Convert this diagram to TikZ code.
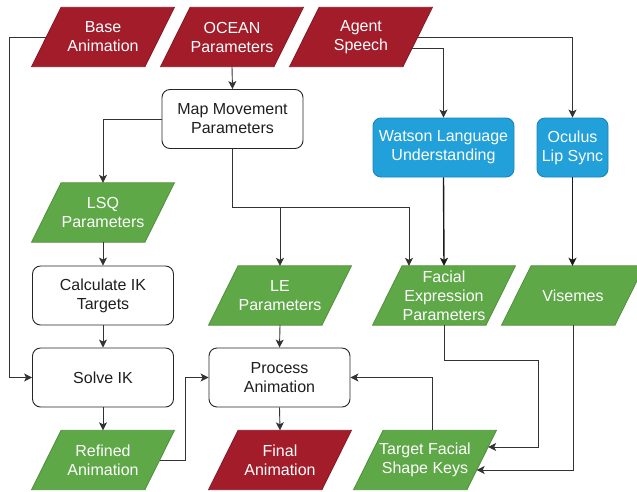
\documentclass[tikz,border=0pt]{standalone}
\usepackage{fontspec}
\setmainfont{Liberation Sans}
\usetikzlibrary{arrows.meta,calc,backgrounds}
\definecolor{cred}{HTML}{A21C2A}
\definecolor{credD}{HTML}{8A1822}
\definecolor{cgreen}{HTML}{5EA847}
\definecolor{cgreenD}{HTML}{4A8B37}
\definecolor{cblue}{HTML}{21A0DA}
\definecolor{cblueD}{HTML}{1A86BA}
\newcommand{\dfont}{\fontsize{16}{19}\selectfont}
\begin{document}
\begin{tikzpicture}[x=1pt,y=-1pt,
  procbox/.style={draw=black!85, rounded corners=8pt, line width=0.9pt, fill=white,
    minimum width=141pt, minimum height=59pt, align=center, text=black!88,
    font=\dfont, inner sep=0pt},
  apibox/.style={procbox, fill=cblue, draw=cblueD, text=white},
  databox/.style={rectangle, minimum width=113pt, minimum height=59pt,
    inner sep=0pt, align=center, text=white, font=\dfont},
  paraline/.style={line width=0.8pt, line join=miter},
  link/.style={draw=black!80, line width=0.9pt, -{Stealth[length=8pt,width=8pt,inset=2pt]}},
  thicklink/.style={link, draw=black!90, line width=1.4pt}]
\useasboundingbox (0,0) rectangle (637,491);

% inputs / data
\node[databox] (ba) at (103,37) {Base\\Animation};
\node[databox] (ocean) at (232,37) {OCEAN\\Parameters};
\node[databox] (agent) at (361,37) {Agent\\Speech};
\node[databox] (lsq) at (103,212.5) {LSQ\\Parameters};
\node[databox] (le) at (280,295.5) {LE\\Parameters};
\node[databox] (fep) at (444,295.5) {Facial\\Expression\\Parameters};
\node[databox] (vis) at (573,295.5) {Visemes};
\node[databox] (ref) at (103,460) {Refined\\Animation};
\node[databox] (final) at (280,460) {Final\\Animation};
\node[databox] (tfs) at (425,460) {Target Facial\\Shape Keys};

% processes
\node[procbox] (map) at (232.5,119) {Map Movement\\Parameters};
\node[apibox] (watson) at (443.5,147.5) {Watson Language\\Understanding};
\node[apibox, minimum width=71pt] (oculus) at (572.5,147.5) {Oculus\\Lip Sync};
\node[procbox] (calc) at (103,295.5) {Calculate IK\\Targets};
\node[procbox] (solve) at (103,377.5) {Solve IK};
\node[procbox] (proc) at (279.5,377.5) {Process\\Animation};

% parallelogram bodies
\begin{scope}[on background layer]
\foreach \n/\c in {ba/cred, ocean/cred, agent/cred, final/cred,
                   lsq/cgreen, le/cgreen, fep/cgreen, vis/cgreen, ref/cgreen, tfs/cgreen}{
  \filldraw[paraline, fill=\c, draw=\c!85!black]
    ($(\n.north west)+(14.75,0)$) -- ($(\n.north east)+(14.75,0)$) --
    ($(\n.south east)+(-14.75,0)$) -- ($(\n.south west)+(-14.75,0)$) -- cycle;
}
\end{scope}

% helper coordinates
\coordinate (split) at (232.5,207);
\coordinate (bleft) at (9,37);
\coordinate (rbend) at (185,460);
\coordinate (fbend) at (538,360);

% connectors
\draw[link] (ocean.south) -- (map.north);
\draw[link] (map.west) -| (lsq.north);
\draw[link] (map.south) -- (split) -| ([xshift=-35pt]fep.north);
\draw[link] (le.north |- split) -- (le.north);
\draw[link] (agent.east) -| (oculus.north);
\draw[link] ([xshift=-5.5pt,yshift=-11pt]agent.east) -| (watson.north);
\draw[thicklink] (watson.south) -- (fep.north);
\draw[thicklink] (oculus.south) -- (oculus.south |- vis.north);
\draw[link] (ba.west) -- (bleft) |- (solve.west);
\draw[link] (lsq.south) -- (calc.north);
\draw[link] (calc.south) -- (solve.north);
\draw[link] (solve.south) -- (ref.north);
\draw[link] (le.south) -- (proc.north);
\draw[link] (proc.south) -- (final.north);
\draw[link] (ref.east) -- (rbend) |- (proc.west);
\draw[link] ([xshift=7pt]tfs.north) |- (proc.east);
\draw[link] (fep.south) |- (fbend) |- ([xshift=6.5pt,yshift=13pt]tfs.east);
\draw[link] (vis.south) |- ([xshift=-5pt,yshift=-10pt]tfs.east);
\end{tikzpicture}
\end{document}
